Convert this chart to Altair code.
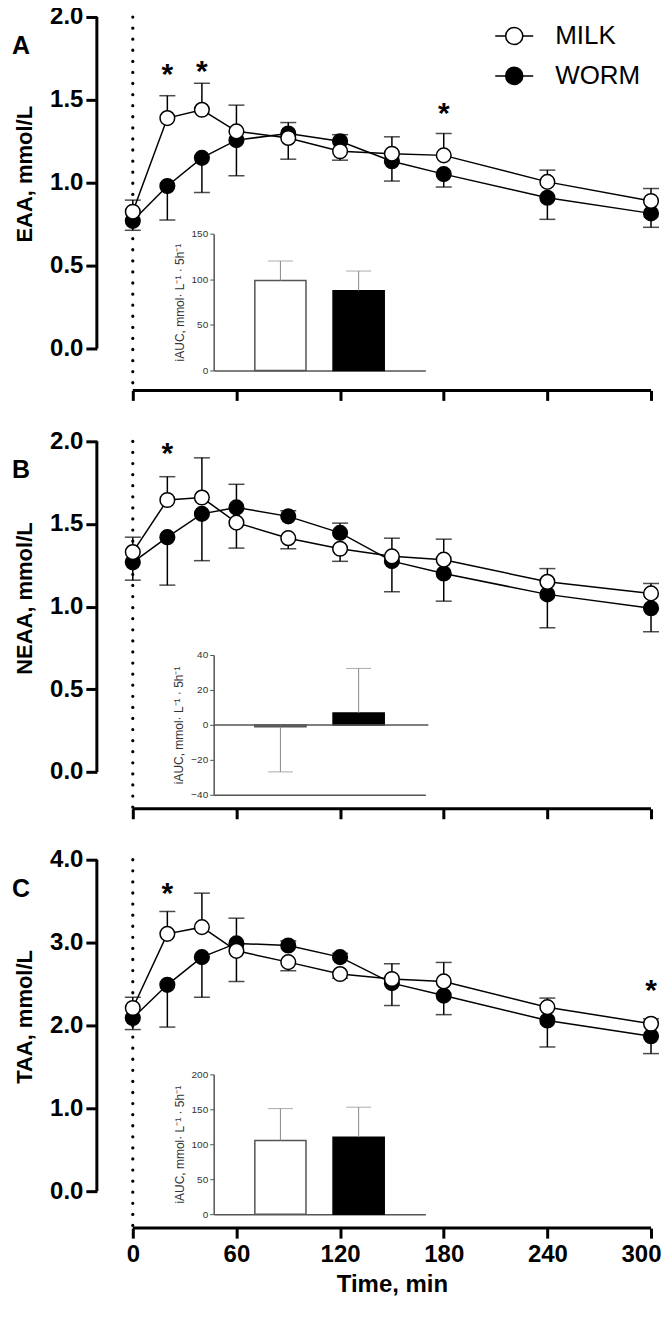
import altair as alt
import pandas as pd

# ---------------- data ----------------
TIMES = [0, 20, 40, 60, 90, 120, 150, 180, 240, 300]
GROUPS = ["MILK", "WORM"]

# Panel A: EAA (mmol/L)
EAA_MILK = [0.825, 1.39, 1.44, 1.31, 1.27, 1.19, 1.175, 1.165, 1.005, 0.89]
EAA_MILK_BAR = [0.895, 1.525, 1.60, 1.468, 1.142, 1.136, 1.277, 1.297, 1.076, 0.965]
EAA_WORM = [0.77, 0.98, 1.15, 1.257, 1.297, 1.25, 1.13, 1.052, 0.909, 0.815]
EAA_WORM_BAR = [0.713, 0.775, 0.941, 1.042, 1.363, 1.29, 1.01, 0.974, 0.779, 0.731]
EAA_STAR_T = [20, 40, 180]
EAA_STAR_Y = [1.69, 1.713, 1.458]
EAA_IAUC = [98.5, 87.5]
EAA_IAUC_BAR = [120, 109]

# Panel B: NEAA (mmol/L)
NEAA_MILK = [1.33, 1.645, 1.66, 1.508, 1.414, 1.35, 1.304, 1.284, 1.15, 1.08]
NEAA_MILK_BAR = [1.42, 1.786, 1.90, 1.354, 1.35, 1.274, 1.414, 1.408, 1.23, 1.14]
NEAA_WORM = [1.268, 1.42, 1.561, 1.60, 1.546, 1.446, 1.275, 1.20, 1.074, 0.99]
NEAA_WORM_BAR = [1.16, 1.13, 1.278, 1.74, 1.58, 1.505, 1.09, 1.033, 0.872, 0.848]
NEAA_STAR_T = [20]
NEAA_STAR_Y = [1.966]
NEAA_IAUC = [-1.0, 6.8]
NEAA_IAUC_BAR = [-26.9, 32.3]

# Panel C: TAA (mmol/L)
TAA_MILK = [2.21, 3.105, 3.186, 2.90, 2.764, 2.62, 2.56, 2.531, 2.22, 2.02]
TAA_MILK_BAR = [2.34, 3.375, 3.596, 2.53, 2.66, 2.57, 2.744, 2.76, 2.33, 2.08]
TAA_WORM = [2.09, 2.49, 2.824, 2.99, 2.965, 2.824, 2.51, 2.36, 2.06, 1.87]
TAA_WORM_BAR = [1.95, 1.98, 2.34, 3.294, 3.02, 2.87, 2.24, 2.13, 1.74, 1.66]
TAA_STAR_T = [20, 300]
TAA_STAR_Y = [3.676, 2.50]
TAA_IAUC = [105.5, 110.0]
TAA_IAUC_BAR = [151, 153]

X_TICKS = [0, 60, 120, 180, 240, 300]
IAUC_TITLE = "iAUC, mmol\u00b7 L\u207b\u00b9 \u00b7 5h\u207b\u00b9"

# ---------------- styling ----------------
FONT = "Liberation Sans"
XMIN = -20.8
W = 555
INSET_X = [117, 329]
LEGEND_PATH = ("M-1,0L-0.45,0M0.45,0L1,0M-0.45,0A0.45,0.45,0,1,1,0.45,0"
               "A0.45,0.45,0,1,1,-0.45,0Z")


def make_panel(letter, ytitle, ymin, ymax, yticks, H, milk, milk_bar, worm, worm_bar,
               star_t, star_y, iauc, iauc_bar, idomain, iticks, irange,
               show_x_labels, show_legend, zero_line):
    rows = []
    for g, vals, bars in (("WORM", worm, worm_bar), ("MILK", milk, milk_bar)):
        for t, v, b in zip(TIMES, vals, bars):
            rows.append({"time": t, "value": v, "bar": b, "group": g,
                         "color": "white" if g == "MILK" else "black"})
    df = pd.DataFrame(rows)
    stars = pd.DataFrame({"time": star_t, "value": star_y})

    xs = alt.Scale(domain=[XMIN, 300], nice=False, zero=False)
    ys = alt.Scale(domain=[ymin, ymax], nice=False, zero=False)

    xkw = dict(values=X_TICKS, domain=False, grid=False, ticks=True, tickSize=10,
               tickWidth=3, tickColor="black", labels=show_x_labels)
    if show_x_labels:
        xkw.update(labelFont=FONT, labelFontSize=24, labelFontWeight="bold",
                   labelColor="black", labelPadding=4, labelFlush=True,
                   labelFlushOffset=10, title="Time, min",
                   titleFont=FONT, titleFontSize=24, titleFontWeight="bold",
                   titleColor="black", titleX=295.5, titlePadding=6)
    else:
        xkw.update(title=None)
    xaxis = alt.Axis(**xkw)

    yaxis = alt.Axis(values=yticks, format=".1f", domain=False, grid=False, tickSize=11,
                     tickWidth=3, tickColor="black", labelFont=FONT, labelFontSize=24,
                     labelFontWeight="bold", labelColor="black", labelPadding=3,
                     title=ytitle, titleFont=FONT, titleFontSize=22, titleFontWeight="bold",
                     titleColor="black", titleAngle=270, titleX=-72, titleY=157,
                     titleAlign="center", titleBaseline="middle")

    X = alt.X("time:Q", scale=xs, axis=xaxis)
    Y = alt.Y("value:Q", scale=ys, axis=yaxis)
    base = alt.Chart(df)
    one = alt.Chart(pd.DataFrame({"t": [0]}))

    dotted = one.mark_rule(strokeDash=[0.1, 11], strokeCap="round", strokeWidth=3.2,
                           color="black").encode(
        x=alt.X("t:Q", scale=xs, axis=xaxis), y=alt.datum(ymax), y2=alt.value(H))
    yline = one.mark_rule(strokeWidth=3, color="black").encode(
        x=alt.value(0), y=alt.datum(0), y2=alt.datum(ymax))
    xline = one.mark_rule(strokeWidth=3, color="black").encode(
        x=alt.datum(0), x2=alt.datum(300), y=alt.value(H))

    err_rule = base.mark_rule(color="black", strokeWidth=1.5).encode(x=X, y=Y, y2="bar:Q")
    err_cap = base.mark_tick(color="black", orient="horizontal", size=16,
                             thickness=1.5).encode(
        x=X, y=alt.Y("bar:Q", scale=ys, axis=yaxis))
    lines = base.mark_line(color="black", strokeWidth=1.5).encode(x=X, y=Y, detail="group:N")

    if show_legend:
        fill = alt.Fill("group:N", scale=alt.Scale(domain=GROUPS, range=["white", "black"]),
                        legend=alt.Legend(orient="none", legendX=398, legendY=-1, title=None,
                                          symbolType=LEGEND_PATH, symbolSize=1444,
                                          symbolStrokeColor="black", symbolStrokeWidth=1.5,
                                          labelFont=FONT, labelFontSize=26, labelColor="black",
                                          labelOffset=21, rowPadding=7, padding=0))
    else:
        fill = alt.Fill("color:N", scale=None)
    points = base.mark_point(shape="circle", size=215, filled=True, stroke="black",
                             strokeWidth=1.5, opacity=1).encode(x=X, y=Y, fill=fill)

    star_marks = alt.Chart(stars).mark_text(text="*", font=FONT, fontSize=30,
                                            fontWeight="bold", baseline="alphabetic",
                                            dy=16, color="black").encode(x=X, y=Y)
    letter_mark = one.mark_text(text=letter, font=FONT, fontSize=25, fontWeight="bold",
                                align="center", baseline="middle", color="black").encode(
        x=alt.value(-76), y=alt.value(29))

    main = alt.layer(dotted, yline, xline, err_rule, err_cap, lines, points, star_marks,
                     letter_mark)

    # ---- inset bar chart ----
    idf = pd.DataFrame({"group": GROUPS, "value": iauc, "bar": iauc_bar,
                        "color": ["white", "black"], "stroke": ["#555555", "black"]})
    ixs = alt.Scale(domain=GROUPS, range=INSET_X, paddingInner=0.346, paddingOuter=0.526)
    iys = alt.Scale(domain=idomain, range=irange, nice=False, zero=False)
    ixaxis = alt.Axis(orient="bottom", offset=-(H - irange[0]), labels=False, ticks=False,
                      domainColor="#555555", domainWidth=1.5, grid=False, title=None)
    iyaxis = alt.Axis(orient="left", offset=-INSET_X[0], values=iticks, grid=False,
                      tickSize=4, tickColor="#555555", tickWidth=1, domainColor="#555555",
                      domainWidth=1.5, labelFont=FONT, labelFontSize=10, labelColor="#333333",
                      labelPadding=2, title=IAUC_TITLE, titleFont=FONT, titleFontSize=12,
                      titleFontWeight="normal", titleColor="#333333", titlePadding=5)
    IX = alt.X("group:N", scale=ixs, axis=ixaxis)
    IY = alt.Y("value:Q", scale=iys, axis=iyaxis)
    ibase = alt.Chart(idf)
    bars = ibase.mark_bar(strokeWidth=1.5).encode(
        x=IX, y=IY, y2=alt.datum(0), fill=alt.Fill("color:N", scale=None),
        stroke=alt.Stroke("stroke:N", scale=None))
    ierr = ibase.mark_rule(color="#888888", strokeWidth=1).encode(x=IX, y=IY, y2="bar:Q")
    icap = ibase.mark_tick(color="#888888", orient="horizontal", size=25,
                           thickness=1).encode(x=IX, y=alt.Y("bar:Q", scale=iys, axis=iyaxis))
    ilayers = [bars, ierr, icap]
    if zero_line:
        ilayers.append(one.mark_rule(color="#555555", strokeWidth=1.5).encode(
            x=alt.value(INSET_X[0]), x2=alt.value(INSET_X[1] + 3),
            y=alt.Y("t:Q", scale=iys, axis=iyaxis)))
    inset = alt.layer(*ilayers)

    return alt.layer(main, inset).resolve_scale(
        x="independent", y="independent").properties(width=W, height=H)


A = make_panel("A", "EAA, mmol/L", -0.253, 2.0, [0.0, 0.5, 1.0, 1.5, 2.0], 374,
               EAA_MILK, EAA_MILK_BAR, EAA_WORM, EAA_WORM_BAR, EAA_STAR_T, EAA_STAR_Y,
               EAA_IAUC, EAA_IAUC_BAR, [0, 150], [0, 50, 100, 150], [354, 217],
               False, True, False)
B = make_panel("B", "NEAA, mmol/L", -0.223, 2.0, [0.0, 0.5, 1.0, 1.5, 2.0], 368,
               NEAA_MILK, NEAA_MILK_BAR, NEAA_WORM, NEAA_WORM_BAR, NEAA_STAR_T, NEAA_STAR_Y,
               NEAA_IAUC, NEAA_IAUC_BAR, [-40, 40], [-40, -20, 0, 20, 40], [354, 214],
               False, False, True)
C = make_panel("C", "TAA, mmol/L", -0.446, 4.0, [0.0, 1.0, 2.0, 3.0, 4.0], 369,
               TAA_MILK, TAA_MILK_BAR, TAA_WORM, TAA_WORM_BAR, TAA_STAR_T, TAA_STAR_Y,
               TAA_IAUC, TAA_IAUC_BAR, [0, 200], [0, 50, 100, 150, 200], [355, 215],
               True, False, False)

chart = alt.vconcat(A, B, C, spacing=51, bounds="flush").resolve_scale(
    fill="independent").resolve_legend(fill="independent").properties(
    padding={"left": 3, "top": -4, "right": 0, "bottom": 2}
).configure_view(stroke=None).configure_axis(grid=False)

chart.save("out.html", embed_options={"renderer": "svg", "actions": False})
